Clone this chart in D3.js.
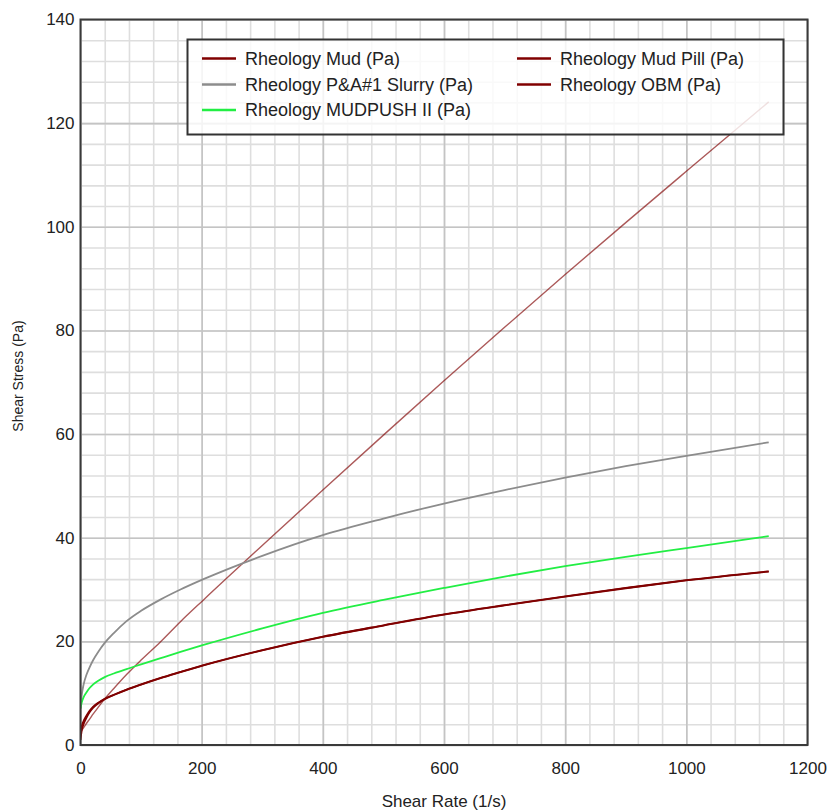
<!DOCTYPE html>
<html>
<head>
<meta charset="utf-8">
<script src="https://cdn.jsdelivr.net/npm/d3@7"></script>
<style>
  html, body { margin: 0; padding: 0; background: #fff; }
  svg { display: block; }
  text { font-family: "Liberation Sans", Arial, sans-serif; }
</style>
</head>
<body>
<svg id="chart" width="827" height="810"></svg>
<script>
// ---- data ----
const shearRate = [0, 2, 5, 10, 15, 21, 30, 40, 55, 76, 100, 131, 165, 203, 300, 400, 500, 600, 700, 800, 900, 1000, 1136];

const mudValues     = [2.3, 3.6, 4.6, 5.7, 6.6, 7.4, 8.2, 8.9, 9.7, 10.7, 11.7, 12.9, 14.1, 15.4, 18.3, 20.9, 23.1, 25.2, 27.0, 28.7, 30.3, 31.8, 33.5];
const slurryValues  = [7.0, 9.6, 11.6, 13.6, 15.0, 16.4, 18.1, 19.7, 21.6, 23.9, 25.9, 28.0, 30.0, 32.0, 36.5, 40.5, 43.7, 46.6, 49.2, 51.6, 53.8, 55.8, 58.4];
const mudpushValues = [7.1, 8.2, 9.2, 10.2, 11.0, 11.7, 12.45, 13.1, 13.8, 14.65, 15.55, 16.7, 17.95, 19.3, 22.5, 25.5, 28.0, 30.3, 32.5, 34.5, 36.3, 38.0, 40.3];
const mudPillValues = [1.0, 2.8, 4.0, 5.3, 6.3, 7.2, 8.1, 8.85, 9.65, 10.65, 11.65, 12.85, 14.05, 15.35, 18.25, 20.85, 23.05, 25.15, 26.95, 28.65, 30.25, 31.75, 33.45];
const obmValues     = [2.5, 2.8, 3.3, 4.2, 5.0, 6.0, 7.4, 8.9, 10.9, 13.6, 16.4, 19.8, 23.8, 28.0, 38.5, 49.2, 59.8, 70.3, 80.6, 90.8, 100.8, 110.7, 124.1];

const seriesNames  = ["Rheology Mud (Pa)", "Rheology P&A#1 Slurry (Pa)", "Rheology MUDPUSH II (Pa)", "Rheology Mud Pill (Pa)", "Rheology OBM (Pa)"];
const seriesColors = ["#800000", "#8c8c8c", "#22ee44", "#800000", "#800000"];

const xTickValues = [0, 200, 400, 600, 800, 1000, 1200];
const yTickValues = [0, 20, 40, 60, 80, 100, 120, 140];

const xLabel = "Shear Rate (1/s)";
const yLabel = "Shear Stress (Pa)";

// ---- layout ----
const svg = d3.select("#chart");
const pLeft = 80.5, pRight = 807.5, pTop = 19.5, pBottom = 745;
const x = d3.scaleLinear().domain([0, 1200]).range([pLeft, pRight]);
const y = d3.scaleLinear().domain([0, 140]).range([pBottom, pTop]);
const W = pRight - pLeft, H = pBottom - pTop;

// minor grid
svg.append("g").attr("transform", `translate(0,${pBottom})`)
  .call(d3.axisBottom(x).tickValues(d3.range(0, 1201, 40)).tickSize(-H).tickFormat(""))
  .call(g => g.select(".domain").remove())
  .call(g => g.selectAll("line").attr("stroke", "#dedede").attr("stroke-width", 1.6));
svg.append("g").attr("transform", `translate(${pLeft},0)`)
  .call(d3.axisLeft(y).tickValues(d3.range(0, 141, 4)).tickSize(-W).tickFormat(""))
  .call(g => g.select(".domain").remove())
  .call(g => g.selectAll("line").attr("stroke", "#dedede").attr("stroke-width", 1.6));
// major grid
svg.append("g").attr("transform", `translate(0,${pBottom})`)
  .call(d3.axisBottom(x).tickValues(xTickValues).tickSize(-H).tickFormat(""))
  .call(g => g.select(".domain").remove())
  .call(g => g.selectAll("line").attr("stroke", "#c4c4c4").attr("stroke-width", 1.6));
svg.append("g").attr("transform", `translate(${pLeft},0)`)
  .call(d3.axisLeft(y).tickValues(yTickValues).tickSize(-W).tickFormat(""))
  .call(g => g.select(".domain").remove())
  .call(g => g.selectAll("line").attr("stroke", "#c4c4c4").attr("stroke-width", 1.6));

// lines
const allValues = [mudValues, slurryValues, mudpushValues, mudPillValues, obmValues];
const line = d3.line().x((d, i) => x(shearRate[i])).y(d => y(d)).curve(d3.curveMonotoneX);
svg.append("clipPath").attr("id", "clip").append("rect")
  .attr("x", pLeft).attr("y", pTop).attr("width", W).attr("height", H);
const drawOrder = [4, 1, 2, 0, 3];
drawOrder.forEach(k => {
  svg.append("path")
    .attr("clip-path", "url(#clip)")
    .attr("d", line(allValues[k]))
    .attr("fill", "none")
    .attr("stroke", seriesColors[k])
    .attr("stroke-width", k === 4 ? 1.4 : 1.8)
    .attr("stroke-opacity", k === 4 ? 0.65 : 1)
    .attr("stroke-linejoin", "round");
});

// axes frame
svg.append("rect").attr("x", pLeft).attr("y", pTop).attr("width", W).attr("height", H)
  .attr("fill", "none").attr("stroke", "#3a3a3a").attr("stroke-width", 2);

// tick labels
const xAxis = svg.append("g").attr("transform", `translate(0,${pBottom})`)
  .call(d3.axisBottom(x).tickValues(xTickValues).tickSize(0).tickPadding(17).tickFormat(d3.format("d")));
xAxis.select(".domain").remove();
xAxis.selectAll("text").attr("font-size", 17).attr("fill", "#222").attr("font-family", "Liberation Sans, Arial, sans-serif");

const yAxis = svg.append("g").attr("transform", `translate(${pLeft},0)`)
  .call(d3.axisLeft(y).tickValues(yTickValues).tickSize(0).tickPadding(6).tickFormat(d3.format("d")));
yAxis.select(".domain").remove();
yAxis.selectAll("text").attr("font-size", 17).attr("fill", "#222").attr("font-family", "Liberation Sans, Arial, sans-serif");

// axis titles
svg.append("text").attr("x", (pLeft + pRight) / 2).attr("y", 807)
  .attr("text-anchor", "middle").attr("font-size", 17).attr("fill", "#222").text(xLabel);
svg.append("text").attr("transform", "translate(18,376) rotate(-90)")
  .attr("text-anchor", "middle").attr("dominant-baseline", "central")
  .attr("font-size", 14).attr("fill", "#222").text(yLabel);

// legend
const lg = svg.append("g");
lg.append("rect").attr("x", 187.5).attr("y", 39.5).attr("width", 596).attr("height", 95)
  .attr("fill", "#fff").attr("fill-opacity", 0.82).attr("stroke", "#333").attr("stroke-width", 2);
const legendPos = [
  {cx: 202, cy: 58.5}, {cx: 202, cy: 84.5}, {cx: 202, cy: 110},
  {cx: 517, cy: 58.5}, {cx: 517, cy: 84.5}
];
seriesNames.forEach((name, k) => {
  const p = legendPos[k];
  lg.append("line").attr("x1", p.cx).attr("x2", p.cx + 34).attr("y1", p.cy).attr("y2", p.cy)
    .attr("stroke", seriesColors[k]).attr("stroke-width", 2.5);
  lg.append("text").attr("x", p.cx + 43).attr("y", p.cy).attr("dominant-baseline", "central")
    .attr("font-size", 18).attr("fill", "#222").text(name);
});
</script>
</body>
</html>
